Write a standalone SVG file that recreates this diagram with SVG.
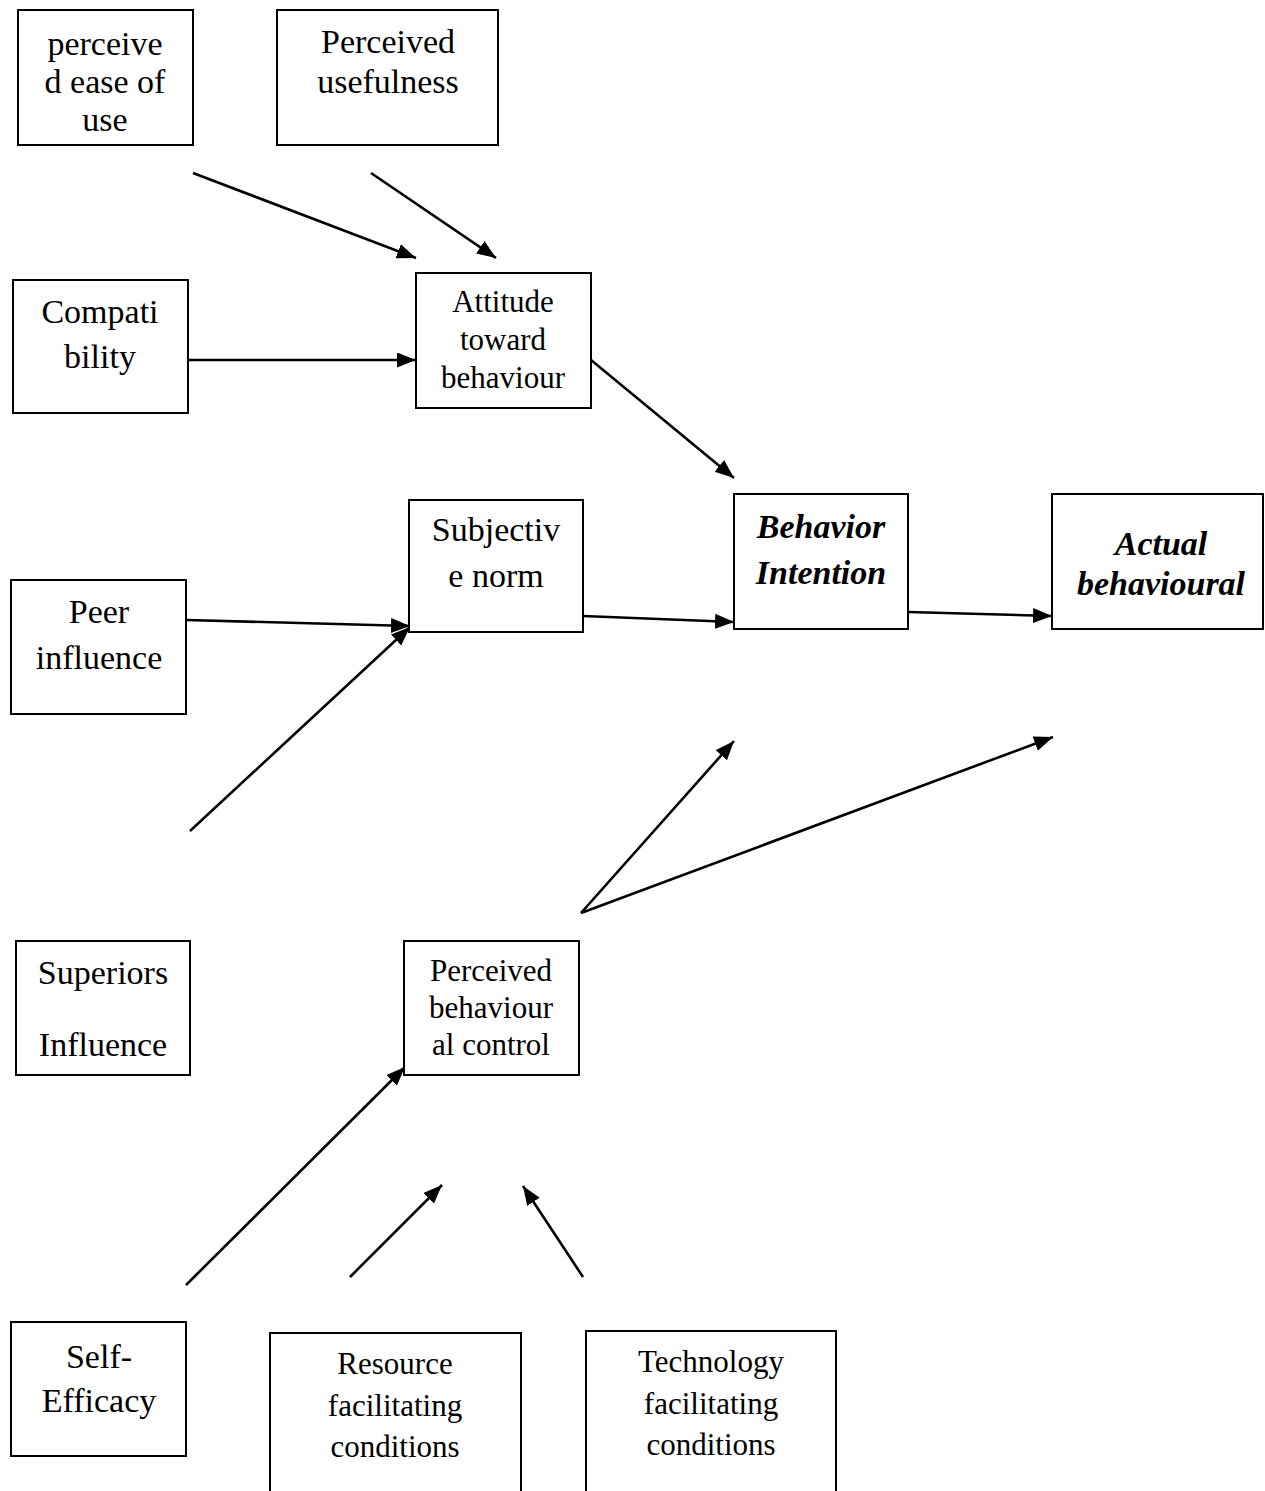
<svg xmlns="http://www.w3.org/2000/svg" width="1265" height="1491" viewBox="0 0 1265 1491">
  <style>
    .box { fill: #ffffff; stroke: #000000; stroke-width: 2; }
    .t { font-family: "Liberation Serif", "Times New Roman", serif; fill: #000000; text-anchor: middle; }
    .lg { font-size: 34px; }
    .sm { font-size: 31px; }
    .em { font-size: 34px; font-weight: bold; font-style: italic; }
    .edge { fill: none; stroke: #000000; stroke-width: 2.6; marker-end: url(#head); }
  </style>
  <defs>
    <marker id="head" markerUnits="userSpaceOnUse" markerWidth="20" markerHeight="16" refX="19" refY="7.5" orient="auto">
      <path d="M0,0 L19,7.5 L0,15 z" fill="#000000"/>
    </marker>
  </defs>
  <rect width="1265" height="1491" fill="#ffffff"/>

  <g id="connectors">
    <line class="edge" x1="193" y1="173" x2="416" y2="258"/>
    <line class="edge" x1="371" y1="173" x2="496" y2="258"/>
    <line class="edge" x1="188" y1="360" x2="416" y2="360"/>
    <line class="edge" x1="591" y1="360" x2="734" y2="478"/>
    <line class="edge" x1="186" y1="620" x2="410" y2="626"/>
    <line class="edge" x1="190" y1="831" x2="410" y2="627"/>
    <line class="edge" x1="583" y1="616" x2="734" y2="622"/>
    <line class="edge" x1="908" y1="612" x2="1052" y2="616"/>
    <line class="edge" x1="581" y1="913" x2="734" y2="741"/>
    <line class="edge" x1="581" y1="913" x2="1053" y2="737"/>
    <line class="edge" x1="186" y1="1285" x2="405" y2="1067"/>
    <line class="edge" x1="350" y1="1277" x2="442" y2="1185"/>
    <line class="edge" x1="583" y1="1277" x2="523" y2="1186"/>
  </g>

  <g id="ease-of-use">
    <rect class="box" x="18" y="10" width="175" height="135"/>
    <text class="t lg" x="105" y="55">perceive</text>
    <text class="t lg" x="105" y="93">d ease of</text>
    <text class="t lg" x="105" y="131">use</text>
  </g>
  <g id="usefulness">
    <rect class="box" x="277" y="10" width="221" height="135"/>
    <text class="t lg" x="388" y="53">Perceived</text>
    <text class="t lg" x="388" y="93">usefulness</text>
  </g>
  <g id="compatibility">
    <rect class="box" x="13" y="280" width="175" height="133"/>
    <text class="t lg" x="100" y="323">Compati</text>
    <text class="t lg" x="100" y="368">bility</text>
  </g>
  <g id="attitude">
    <rect class="box" x="416" y="273" width="175" height="135"/>
    <text class="t sm" x="503" y="312">Attitude</text>
    <text class="t sm" x="503" y="350">toward</text>
    <text class="t sm" x="503" y="388">behaviour</text>
  </g>
  <g id="subjective-norm">
    <rect class="box" x="409" y="500" width="174" height="132"/>
    <text class="t lg" x="496" y="541">Subjectiv</text>
    <text class="t lg" x="496" y="587">e norm</text>
  </g>
  <g id="behavior-intention">
    <rect class="box" x="734" y="494" width="174" height="135"/>
    <text class="t em" x="821" y="538">Behavior</text>
    <text class="t em" x="821" y="584">Intention</text>
  </g>
  <g id="actual-behavioural">
    <rect class="box" x="1052" y="494" width="211" height="135"/>
    <text class="t em" x="1161" y="555">Actual</text>
    <text class="t em" x="1161" y="595">behavioural</text>
  </g>
  <g id="peer-influence">
    <rect class="box" x="11" y="580" width="175" height="134"/>
    <text class="t lg" x="99" y="623">Peer</text>
    <text class="t lg" x="99" y="669">influence</text>
  </g>
  <g id="superiors-influence">
    <rect class="box" x="16" y="941" width="174" height="134"/>
    <text class="t lg" x="103" y="984">Superiors</text>
    <text class="t lg" x="103" y="1056">Influence</text>
  </g>
  <g id="behavioural-control">
    <rect class="box" x="404" y="941" width="175" height="134"/>
    <text class="t sm" x="491" y="981">Perceived</text>
    <text class="t sm" x="491" y="1018">behaviour</text>
    <text class="t sm" x="491" y="1055">al control</text>
  </g>
  <g id="self-efficacy">
    <rect class="box" x="11" y="1322" width="175" height="134"/>
    <text class="t lg" x="99" y="1368">Self-</text>
    <text class="t lg" x="99" y="1412">Efficacy</text>
  </g>
  <g id="resource-conditions">
    <rect class="box" x="270" y="1333" width="251" height="180"/>
    <text class="t sm" x="395" y="1374">Resource</text>
    <text class="t sm" x="395" y="1416">facilitating</text>
    <text class="t sm" x="395" y="1457">conditions</text>
  </g>
  <g id="technology-conditions">
    <rect class="box" x="586" y="1331" width="250" height="180"/>
    <text class="t sm" x="711" y="1372">Technology</text>
    <text class="t sm" x="711" y="1414">facilitating</text>
    <text class="t sm" x="711" y="1455">conditions</text>
  </g>
</svg>
